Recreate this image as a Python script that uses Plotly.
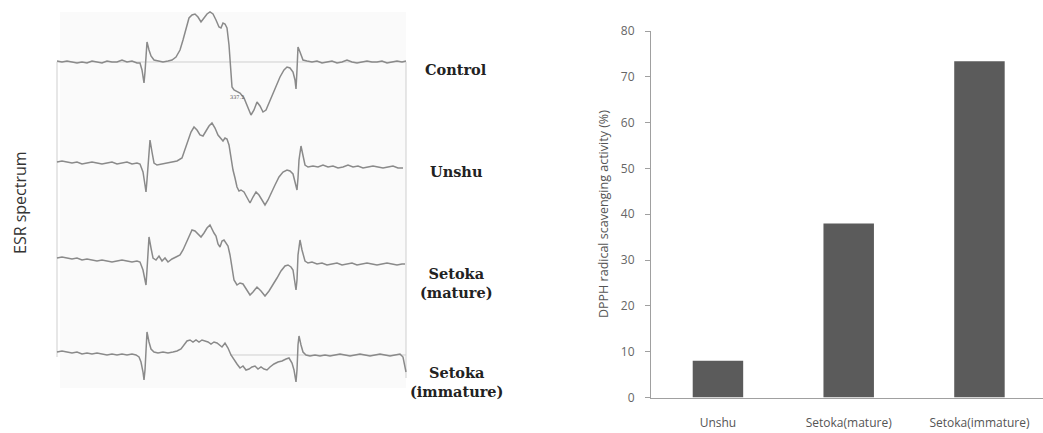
import plotly.graph_objects as go

# ---------------- ESR spectra (left panel) ----------------
# magnetic-field position (arbitrary units) and signal amplitude (relative to baseline)
control_field = [57,62,67,72,77,82,87,92,97,102,107,112,117,122,127,132,137,140,142,144,
                 145,146,147,149,151,154,158,163,168,172,176,180,183,186,189,192,195,198,201,204,
                 207,210,213,216,219,221,223,225,227,229,230,231,232,234,236,240,244,248,251,254,
                 257,260,263,266,269,272,276,280,284,287,290,293,295,296,297,298,300,303,307,312,
                 317,322,327,332,337,342,347,352,357,362,367,372,377,382,387,392,397,402,406]
control_signal = [1,0,1,0,-1,0,-1,1,0,-1,1,0,0,2,0,1,-1,-1,-8,-21,
                  -10,7,20,12,6,2,1,0,1,2,5,12,22,34,44,47,48,45,40,44,
                  48,50,48,42,35,34,39,38,34,17,2,-13,-25,-28,-29,-31,-36,-46,-53,-48,
                  -40,-44,-50,-48,-41,-35,-25,-15,-8,-5,-6,-10,-18,-27,-8,15,10,2,1,0,
                  1,-1,0,1,-1,0,2,0,-1,0,1,0,0,1,-1,0,1,0,1]

unshu_field = [57,62,67,72,77,82,87,92,97,102,107,112,117,122,127,132,137,140,143,145,
               146,147,149,150,152,154,157,162,167,172,177,182,185,188,191,194,197,200,203,206,
               209,212,215,218,221,223,225,227,229,231,233,235,237,239,241,244,247,250,253,256,
               259,262,265,268,271,275,279,283,287,290,293,295,297,298,299,301,303,305,308,313,
               318,323,328,333,338,343,348,353,358,363,368,373,378,383,388,393,398,403]
unshu_signal = [1,2,1,0,1,-1,0,1,0,-1,0,1,-1,0,1,-1,0,-1,-9,-22,
                -29,-17,8,23,11,0,-2,-1,0,1,2,5,13,21,31,36,33,28,27,32,
                37,40,35,28,24,22,25,24,18,5,-7,-15,-24,-28,-27,-29,-35,-40,-34,-29,
                -32,-37,-42,-37,-30,-22,-14,-9,-7,-8,-11,-19,-27,-15,3,17,8,-2,-4,-3,
                -4,-2,-4,-3,-5,-4,-2,-4,-3,-5,-4,-3,-4,-5,-4,-3,-5,-5]

mature_field = [57,62,67,72,77,82,87,92,97,102,107,112,117,122,127,132,137,140,143,145,
                146,147,148,149,151,153,156,159,162,165,168,172,176,180,183,186,189,192,195,198,
                201,204,207,210,212,214,216,218,220,222,224,226,228,230,232,234,237,240,243,246,
                250,253,257,261,265,269,273,277,281,285,288,291,293,295,296,297,298,300,302,305,
                308,312,317,322,327,332,337,342,347,352,357,362,367,372,377,382,387,392,397,402,405]
mature_signal = [2,3,2,1,2,0,1,0,-1,0,-1,-2,-1,0,-1,-2,-1,-2,-10,-22,
                 -25,-10,10,23,12,2,0,4,-1,2,-2,1,3,5,10,17,24,30,29,26,
                 23,27,32,35,30,27,24,16,13,19,20,17,14,5,-10,-20,-25,-23,-24,-29,
                 -35,-32,-27,-31,-36,-31,-25,-18,-11,-6,-5,-7,-10,-22,-30,-20,5,20,10,-1,
                 -3,-2,-4,-3,-5,-4,-3,-5,-4,-3,-5,-4,-3,-4,-5,-4,-3,-4,-5,-4,-4]

immature_field = [57,62,67,72,77,82,87,92,97,102,107,112,117,122,127,132,136,139,141,143,
                  144,145,146,147,149,151,154,158,163,168,173,177,181,184,187,190,193,196,199,202,
                  205,208,211,214,217,220,222,225,228,231,234,237,240,243,246,249,252,255,258,261,
                  264,267,270,274,278,282,286,289,292,294,296,297,298,299,301,303,306,310,315,320,
                  325,330,335,340,345,350,355,360,365,370,375,380,385,390,395,400,403,405,406]
immature_signal = [1,2,1,0,1,-1,0,-1,0,-1,-2,-1,-2,-1,-2,-1,-2,-4,-9,-19,
                   -27,-17,8,21,11,4,1,0,1,0,1,2,4,8,12,13,11,13,11,13,
                   12,11,9,11,10,7,6,10,5,-2,-7,-11,-15,-13,-17,-16,-14,-13,-16,-14,
                   -16,-17,-14,-11,-9,-8,-6,-5,-10,-17,-29,-17,8,17,8,1,-2,-3,-2,-3,
                   -2,-3,-2,-1,-2,-3,-2,-1,-2,-3,-2,-1,-2,-3,-2,-1,-4,-12,-19]

spectrum_names = ["Control", "Unshu", "Setoka<br>(mature)", "Setoka<br>(immature)"]

# ---------------- DPPH bar chart (right panel) ----------------
categories = ["Unshu", "Setoka(mature)", "Setoka(immature)"]
dpph_activity = [8.0, 38.0, 73.4]
y_ticks = [0, 10, 20, 30, 40, 50, 60, 70, 80]

# ---------------- layout positions (stacking offsets of spectra) ----------------
offsets = [62, 163, 260, 353]
label_y = [69, 171, 283, 382]

W, H = 1043, 433
fig = go.Figure()

spectra = [(control_field, control_signal), (unshu_field, unshu_signal),
           (mature_field, mature_signal), (immature_field, immature_signal)]

# faint scanned-page background and frame lines
fig.add_shape(type="rect", xref="x", yref="y", x0=60, x1=406, y0=-12, y1=-388,
              fillcolor="#fafafa", line_width=0, layer="below")
line_style = dict(color="#cfcfcf", width=1)
fig.add_shape(type="line", xref="x", yref="y", x0=57, x1=406, y0=-62, y1=-62, line=line_style, layer="below")
fig.add_shape(type="line", xref="x", yref="y", x0=57, x1=57, y0=-62, y1=-357, line=line_style, layer="below")
fig.add_shape(type="line", xref="x", yref="y", x0=406, x1=406, y0=-62, y1=-378, line=line_style, layer="below")
fig.add_shape(type="line", xref="x", yref="y", x0=230, x1=406, y0=-355, y1=-355, line=line_style, layer="below")

for (fx, sig), off, name in zip(spectra, offsets, spectrum_names):
    fig.add_trace(go.Scatter(x=fx, y=[s - off for s in sig], mode="lines",
                             line=dict(color="#8a8a8a", width=1.5),
                             name=name.replace("<br>", " "), showlegend=False,
                             xaxis="x", yaxis="y"))

for name, ly in zip(spectrum_names, label_y):
    fig.add_annotation(x=456, y=-ly, xref="x", yref="y", text="<b>" + name + "</b>",
                       showarrow=False, xanchor="center", yanchor="middle",
                       font=dict(family="DejaVu Serif", size=14.5, color="#222222"))

fig.add_annotation(x=237, y=-97, xref="x", yref="y", text="337.2", showarrow=False,
                   font=dict(family="DejaVu Serif", size=5, color="#555555"))

fig.add_annotation(x=20, y=-203, xref="x", yref="y", text="ESR spectrum", textangle=-90,
                   showarrow=False, font=dict(family="Open Sans", size=16, color="#333333"))

# bar chart
fig.add_trace(go.Bar(x=categories, y=dpph_activity, marker=dict(color="#5b5b5b", line_width=0),
                     width=0.386, xaxis="x2", yaxis="y2", showlegend=False))

fig.add_annotation(x=603 / W, y=1 - 214 / H, xref="paper", yref="paper",
                   text="DPPH radical scavenging activity (%)", textangle=-90, showarrow=False,
                   font=dict(family="Open Sans", size=12.5, color="#555555"))

fig.update_layout(
    width=W, height=H,
    margin=dict(l=0, r=0, t=0, b=0, autoexpand=False),
    paper_bgcolor="white", plot_bgcolor="rgba(0,0,0,0)",
    xaxis=dict(domain=[0, 470 / W], range=[0, 470], visible=False, fixedrange=True,
               automargin=False),
    yaxis=dict(domain=[0, 1], range=[-H, 0], visible=False, fixedrange=True,
               automargin=False),
    xaxis2=dict(domain=[651 / W, 1], range=[-0.512, 2.486], anchor="y2", automargin=False,
                showline=True, linecolor="#a0a0a0", linewidth=1, ticks="",
                showgrid=False, zeroline=False, ticklabelstandoff=14,
                tickfont=dict(family="Open Sans", size=12, color="#555555")),
    yaxis2=dict(domain=[(H - 397.5) / H, (H - 31) / H], range=[0, 80], anchor="x2",
                automargin=False,
                tickvals=y_ticks, showline=True, linecolor="#a0a0a0", linewidth=1,
                ticks="outside", ticklen=5, tickcolor="#a0a0a0", showgrid=False,
                zeroline=False, ticklabelstandoff=8,
                tickfont=dict(family="Open Sans", size=12, color="#666666")),
)

fig.write_html("out.html", config={"displayModeBar": False},
               post_script="document.body.style.margin='0';document.body.style.overflow='hidden';")
